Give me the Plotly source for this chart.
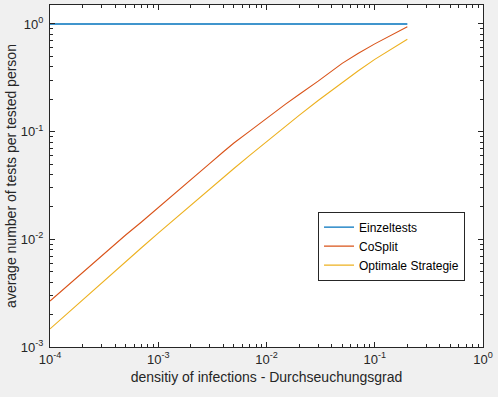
import plotly.graph_objects as go

density = [1e-4, 2e-4, 3e-4, 5e-4, 7e-4, 1e-3, 1.5e-3, 2e-3, 2.5e-3, 3e-3, 4e-3, 5e-3,
           7e-3, 1e-2, 1.5e-2, 2e-2, 3e-2, 5e-2, 7e-2, 0.1, 0.15, 0.2]
einzeltests = [1.0] * len(density)
cosplit = [0.002673, 0.004920, 0.007031, 0.01096, 0.01449, 0.01963, 0.02773, 0.03548,
           0.04266, 0.05070, 0.06501, 0.07834, 0.1012, 0.1337, 0.1803, 0.2213, 0.2944,
           0.4305, 0.5320, 0.6531, 0.8091, 0.9441]
optimal = [0.001473, 0.002747, 0.003944, 0.006204, 0.008346, 0.01141, 0.01623, 0.02082,
           0.02521, 0.02946, 0.03762, 0.04542, 0.06017, 0.08079, 0.1124, 0.1414, 0.1944,
           0.2864, 0.366, 0.469, 0.6098, 0.7219]

x_tickvals = [1e-4, 1e-3, 1e-2, 1e-1, 1]
x_ticktext = ["10<sup>-4</sup>", "10<sup>-3</sup>", "10<sup>-2</sup>", "10<sup>-1</sup>", "10<sup>0</sup>"]
y_tickvals = [1e-3, 1e-2, 1e-1, 1]
y_ticktext = ["10<sup>-3</sup>", "10<sup>-2</sup>", "10<sup>-1</sup>", "10<sup>0</sup>"]
x_minor = [m * 10.0 ** e for e in range(-4, 0) for m in range(2, 10)]
y_minor = [m * 10.0 ** e for e in range(-3, 1) for m in range(2, 10)]

FONT = "Liberation Sans, Arial, Helvetica, sans-serif"
AX = "#262626"

fig = go.Figure()
fig.add_trace(go.Scatter(x=density, y=einzeltests, mode="lines", name="Einzeltests",
                         line=dict(color="#0072BD", width=1.4)))
fig.add_trace(go.Scatter(x=density, y=cosplit, mode="lines", name="CoSplit",
                         line=dict(color="#D95319", width=1.1)))
fig.add_trace(go.Scatter(x=density, y=optimal, mode="lines", name="Optimale Strategie",
                         line=dict(color="#EDB120", width=1.1)))

axis_common = dict(type="log", showline=True, linecolor=AX, linewidth=1, mirror="allticks",
                   ticks="inside", ticklen=5, tickcolor=AX, tickwidth=1, showgrid=False,
                   zeroline=False, tickfont=dict(family=FONT, size=13, color=AX))

fig.update_xaxes(range=[-4, 0], tickvals=x_tickvals, ticktext=x_ticktext,
                 minor=dict(tickvals=x_minor, ticks="inside", ticklen=3, tickcolor=AX,
                            tickwidth=1, showgrid=False),
                 title=dict(text="densitiy of infections - Durchseuchungsgrad",
                            font=dict(family=FONT, size=14, color=AX), standoff=6),
                 **axis_common)
fig.update_yaxes(range=[-3, 0.176], tickvals=y_tickvals, ticktext=y_ticktext,
                 minor=dict(tickvals=y_minor, ticks="inside", ticklen=3, tickcolor=AX,
                            tickwidth=1, showgrid=False),
                 ticklabelstandoff=3,
                 title=dict(text="average number of tests per tested person",
                            font=dict(family=FONT, size=14, color=AX), standoff=0),
                 **axis_common)

fig.update_layout(
    width=498, height=397,
    margin=dict(l=50, r=15, t=5, b=50, autoexpand=False),
    paper_bgcolor="#F0F0F0", plot_bgcolor="white",
    font=dict(family=FONT, size=12, color=AX),
    legend=dict(x=0.619, y=0.295, xanchor="left", yanchor="middle",
                bgcolor="white", bordercolor=AX, borderwidth=1,
                font=dict(family=FONT, size=12, color="black"),
                tracegroupgap=0, itemwidth=30),
    showlegend=True,
)

fig.write_html("out.html", config={"displayModeBar": False},
               post_script="document.body.style.margin='0';document.body.style.background='#F0F0F0';")
